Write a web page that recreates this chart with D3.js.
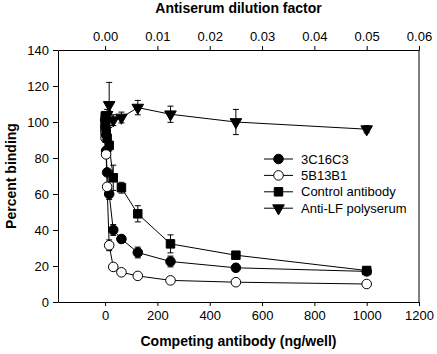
<!DOCTYPE html>
<html>
<head>
  <meta charset="utf-8">
  <title>Percent binding</title>
  <script src="https://d3js.org/d3.v7.min.js"></script>
  <style>
  body { margin: 0; background: white; }
  text { font-family: "Liberation Sans", Arial, sans-serif; fill: black; }
  .axis text { font-size: 13px; }
  .axis path, .axis line { stroke: black; stroke-width: 1; }
  .title { font-size: 14px; font-weight: bold; }
  .legend text { font-size: 13px; }
  </style>
</head>
<body>
<div id='container'></div>
<script>

// competing antibody, ng/well
var conc = [0.49, 0.98, 1.95, 3.91, 7.81, 15.63, 31.25, 62.5, 125, 250, 500, 1000]
var c3C16C3 = [101, 97, 93, 84, 72, 60, 40, 35, 27.5, 22.5, 19, 17]
var c3C16C3Err = [0, 0, 0, 0, 0, 3, 3, 2, 3, 3, 2, 1]
var c5B13B1 = [98, 95, 91, 82, 64, 31.5, 19.5, 16.5, 14.5, 12, 11, 10]
var c5B13B1Err = [0, 0, 0, 0, 0, 3, 0, 0, 0, 0, 0, 0]
var control = [103, 101, 98, 94, 91, 87, 69, 63.5, 49, 32.3, 26, 17.5]
var controlErr = [0, 0, 0, 0, 0, 3, 7, 3, 4.5, 5, 1, 1]

// antiserum dilution factor (top axis)
var dilution = [0.00039, 0.00078, 0.0015625, 0.003125, 0.00625, 0.0125, 0.025, 0.05]
var antiLF = [104, 109.5, 101, 102.5, 108, 104.3, 100, 96]
var antiLFErr = [3, 12.5, 3, 3, 4, 4.5, 7, 2]

var xTicks = [0, 200, 400, 600, 800, 1000, 1200]
var topTicks = [0, 0.01, 0.02, 0.03, 0.04, 0.05, 0.06]
var yTicks = [0, 20, 40, 60, 80, 100, 120, 140]
var legendNames = ['3C16C3', '5B13B1', 'Control antibody', 'Anti-LF polyserum']

const width = 437
const height = 354
var mLeft = 58, mRight = 419, mTop = 50, mBottom = 302

var svg = d3.select('#container')
  .append('svg')
  .attr('width', width)
  .attr('height', height)

var x = d3.scaleLinear().domain([-180, 1200]).range([mLeft, mRight])
var xTop = d3.scaleLinear().domain([-0.009, 0.06]).range([mLeft, mRight])
var y = d3.scaleLinear().domain([0, 140]).range([mBottom, mTop])

svg.append('g').attr('class', 'axis')
  .attr('transform', 'translate(0,' + mBottom + ')')
  .call(d3.axisBottom(x).tickValues(xTicks).tickFormat(d3.format('d')).tickSize(4).tickSizeOuter(0).tickPadding(5))

svg.append('g').attr('class', 'axis')
  .attr('transform', 'translate(0,' + mTop + ')')
  .call(d3.axisTop(xTop).tickValues(topTicks).tickFormat(d3.format('.2f')).tickSize(4).tickSizeOuter(0).tickPadding(5))

svg.append('g').attr('class', 'axis')
  .attr('transform', 'translate(' + mLeft + ',0)')
  .call(d3.axisLeft(y).tickValues(yTicks).tickSize(5).tickSizeOuter(0).tickPadding(4))

// right frame edge
svg.append('line')
  .attr('x1', mRight).attr('x2', mRight)
  .attr('y1', mTop).attr('y2', mBottom)
  .style('stroke', 'black')

svg.append('text').attr('class', 'title')
  .attr('x', (mLeft + mRight) / 2).attr('y', 13)
  .attr('text-anchor', 'middle')
  .text('Antiserum dilution factor')

svg.append('text').attr('class', 'title')
  .attr('x', (mLeft + mRight) / 2).attr('y', 346)
  .attr('text-anchor', 'middle')
  .text('Competing antibody (ng/well)')

svg.append('text').attr('class', 'title')
  .attr('transform', 'translate(16,' + ((mTop + mBottom) / 2) + ') rotate(-90)')
  .attr('text-anchor', 'middle')
  .text('Percent binding')

var series = [
  {name: legendNames[0], xs: conc, ys: c3C16C3, err: c3C16C3Err, sx: x, symbol: d3.symbolCircle, size: 72, fill: 'black'},
  {name: legendNames[1], xs: conc, ys: c5B13B1, err: c5B13B1Err, sx: x, symbol: d3.symbolCircle, size: 72, fill: 'white'},
  {name: legendNames[2], xs: conc, ys: control, err: controlErr, sx: x, symbol: d3.symbolSquare, size: 72, fill: 'black'},
  {name: legendNames[3], xs: dilution, ys: antiLF, err: antiLFErr, sx: xTop, symbol: d3.symbolTriangle, size: 58, fill: 'black'}
]

var line = d3.line()

series.forEach(function(s){
  var pts = s.xs.map((d, i) => [s.sx(d), y(s.ys[i]), s.err[i]])

  svg.append('path')
    .attr('d', line(pts.map(p => [p[0], p[1]])))
    .style('fill', 'none')
    .style('stroke', 'black')
    .style('stroke-width', 1)

  var eb = svg.append('g')
  pts.filter(p => p[2] > 0).forEach(function(p){
    var lo = y(0) - y(p[2])
    eb.append('line').attr('x1', p[0]).attr('x2', p[0]).attr('y1', p[1] + lo).attr('y2', p[1] - lo)
    eb.append('line').attr('x1', p[0] - 3).attr('x2', p[0] + 3).attr('y1', p[1] - lo).attr('y2', p[1] - lo)
    eb.append('line').attr('x1', p[0] - 3).attr('x2', p[0] + 3).attr('y1', p[1] + lo).attr('y2', p[1] + lo)
  })
  eb.selectAll('line').style('stroke', 'black').style('stroke-width', 1)
})

series.forEach(function(s){
  svg.append('g').selectAll('path')
    .data(s.xs.map((d, i) => [s.sx(d), y(s.ys[i])]))
    .enter()
    .append('path')
    .attr('transform', d => 'translate(' + d[0] + ',' + d[1] + ')' + (s.symbol === d3.symbolTriangle ? ' rotate(180)' : ''))
    .attr('d', d3.symbol().type(s.symbol).size(s.size))
    .style('fill', s.fill)
    .style('stroke', 'black')
    .style('stroke-width', 1)
})

// legend
var legend = svg.append('g').attr('class', 'legend')
series.forEach(function(s, i){
  var ly = 159 + i * 16.4
  legend.append('line')
    .attr('x1', 264).attr('x2', 293).attr('y1', ly).attr('y2', ly)
    .style('stroke', 'black')
  legend.append('path')
    .attr('transform', 'translate(278.5,' + ly + ')' + (s.symbol === d3.symbolTriangle ? ' rotate(180)' : ''))
    .attr('d', d3.symbol().type(s.symbol).size(s.size))
    .style('fill', s.fill)
    .style('stroke', 'black')
  legend.append('text')
    .attr('x', 301).attr('y', ly)
    .attr('dy', '0.35em')
    .text(s.name)
})

</script>
</body>
</html>
